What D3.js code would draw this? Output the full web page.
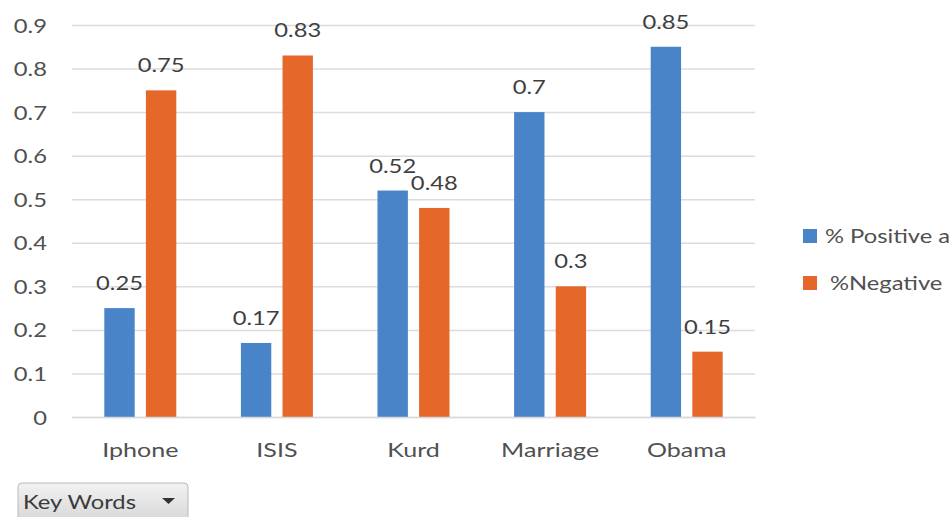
<!DOCTYPE html>
<html>
<head>
<meta charset="utf-8">
<script src="https://cdn.jsdelivr.net/npm/d3@7"></script>
<style>
  body { margin: 0; background: #fff; }
  svg { display: block; font-family: Lato, "Open Sans", sans-serif; }
</style>
</head>
<body>
<script>
// chart data
var categories = ["Iphone", "ISIS", "Kurd", "Marriage", "Obama"];
var seriesNames = ["% Positive attitude", "%Negative attitude"];
var positive = [0.25, 0.17, 0.52, 0.7, 0.85];
var negative = [0.75, 0.83, 0.48, 0.3, 0.15];
var yTicks = [0, 0.1, 0.2, 0.3, 0.4, 0.5, 0.6, 0.7, 0.8, 0.9];
var colors = ["#4a84c8", "#e5672a"];

var W = 949, H = 517;
var left = 72, right = 755, top0 = 25, bottom = 417;
var sx = 1.25; // text looks horizontally stretched in the picture

var svg = d3.select("body").append("svg")
    .attr("width", W)
    .attr("height", H);

var x0 = d3.scaleBand().domain(categories).range([left, right]);
var y = d3.scaleLinear().domain([0, 0.9]).range([bottom, top0]);

// gridlines + y labels
var yAxis = d3.axisLeft(y).tickValues(yTicks)
    .tickSize(-(right - left)).tickPadding(0)
    .tickFormat(function (d) { return d3.format("")(+d.toFixed(1)); });

var gy = svg.append("g")
    .attr("transform", "translate(" + left + ",0)")
    .call(yAxis);
gy.select(".domain").remove();
gy.selectAll(".tick line").attr("stroke", "#dcdcdc").attr("stroke-width", 1.5);
gy.selectAll(".tick text")
    .attr("x", null).attr("dy", null)
    .attr("transform", "translate(-25,7) scale(" + sx + ",1)")
    .attr("fill", "#505050")
    .style("font-size", "19px")
    .style("font-family", "Lato, sans-serif");

// bars
var data = categories.map(function (c, i) {
    return { cat: c, vals: [positive[i], negative[i]] };
});

var groups = svg.selectAll(".grp")
    .data(data)
    .enter().append("g")
    .attr("class", "grp")
    .attr("transform", function (d) { return "translate(" + (x0(d.cat) + x0.bandwidth() / 2) + ",0)"; });

var x1 = d3.scaleBand().domain([0, 1]).range([-36, 36]).paddingInner(0.27);

groups.selectAll("rect")
    .data(function (d) { return d.vals; })
    .enter().append("rect")
    .attr("x", function (d, i) { return x1(i); })
    .attr("width", x1.bandwidth())
    .attr("y", function (d) { return y(d); })
    .attr("height", function (d) { return bottom - y(d); })
    .attr("fill", function (d, i) { return colors[i]; });

groups.selectAll("text.val")
    .data(function (d) { return d.vals; })
    .enter().append("text")
    .attr("class", "val")
    .attr("text-anchor", "middle")
    .attr("transform", function (d, i) {
        return "translate(" + (x1(i) + x1.bandwidth() / 2) + "," + (y(d) - 18) + ") scale(" + sx + ",1)";
    })
    .attr("fill", "#3f3f3f")
    .style("font-size", "19px")
    .text(function (d) { return d; });

// x axis
var xAxis = d3.axisBottom(x0).tickSize(0).tickPadding(0);
var gx = svg.append("g")
    .attr("transform", "translate(0," + bottom + ")")
    .call(xAxis);
gx.select(".domain").attr("stroke", "#d9d9d9").attr("stroke-width", 1.5);
gx.selectAll(".tick text")
    .attr("y", null).attr("dy", null)
    .attr("transform", "translate(0,40) scale(1.32,1)")
    .attr("fill", "#505050")
    .style("font-size", "19px")
    .style("font-family", "Lato, sans-serif");

// legend
var legend = svg.selectAll(".leg")
    .data(seriesNames)
    .enter().append("g")
    .attr("class", "leg")
    .attr("transform", function (d, i) { return "translate(803," + (229 + i * 47) + ")"; });

legend.append("rect")
    .attr("width", 14).attr("height", 14)
    .attr("fill", function (d, i) { return colors[i]; });

legend.append("text")
    .attr("transform", function (d, i) { return "translate(" + (i === 0 ? 22 : 27) + ",14) scale(" + sx + ",1)"; })
    .attr("fill", "#505050")
    .style("font-size", "19px")
    .text(function (d) { return d; });

// "Key Words" field button
var defs = svg.append("defs");
var grad = defs.append("linearGradient").attr("id", "btn").attr("x1", 0).attr("x2", 0).attr("y1", 0).attr("y2", 1);
grad.append("stop").attr("offset", "0%").attr("stop-color", "#f2f2f2");
grad.append("stop").attr("offset", "100%").attr("stop-color", "#d6d6d6");

var btn = svg.append("g").attr("transform", "translate(18,483)");
btn.append("rect")
    .attr("width", 170).attr("height", 40).attr("rx", 4)
    .attr("fill", "url(#btn)")
    .attr("stroke", "#b8b8b8");
btn.append("text")
    .attr("transform", "translate(5,26) scale(" + sx + ",1)")
    .attr("fill", "#3a3a3a")
    .style("font-size", "19px")
    .text("Key Words");
btn.append("path")
    .attr("d", "M144,15 L157,15 L150.5,21 Z")
    .attr("fill", "#333");
</script>
</body>
</html>
